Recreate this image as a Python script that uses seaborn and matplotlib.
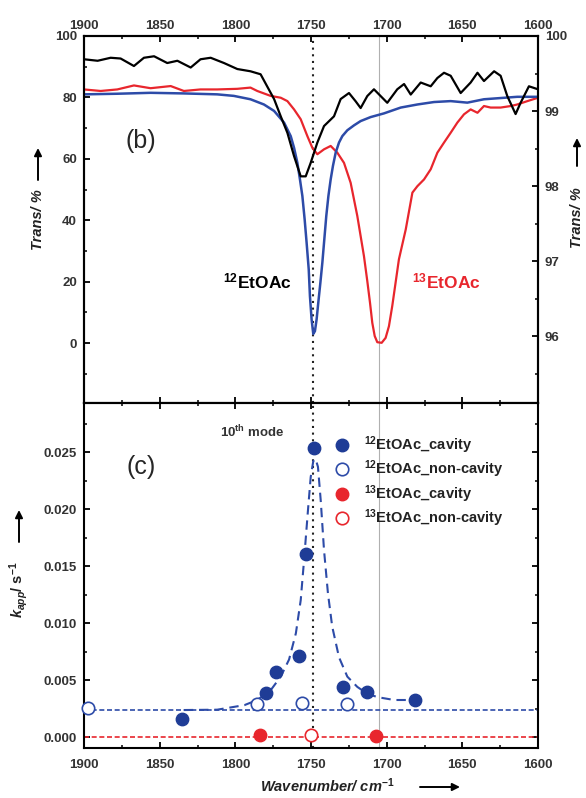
import matplotlib
matplotlib.use("Agg")
import matplotlib.pyplot as plt
import matplotlib.patches as mpatches
import seaborn as sns
from matplotlib.ticker import MultipleLocator
from matplotlib.lines import Line2D

# ---------------- data ----------------
# panel (b): IR transmission spectra
wn_blue = [1900, 1878, 1856, 1834, 1812, 1801, 1790, 1781.1, 1774.4, 1767.8, 1763.4, 1761.2,
           1759.0, 1757.3, 1755.7, 1754.2, 1752.9, 1751.5, 1750.7, 1749.6, 1748.5, 1747.4,
           1746.3, 1745.2, 1743.8, 1742.5, 1741.2, 1739.9, 1738.5, 1737.0, 1735.5, 1733.7,
           1731.5, 1729.3, 1726.0, 1721.6, 1717.2, 1710.6, 1701.8, 1690.7, 1679.7, 1668.7,
           1657.7, 1646.7, 1635.7, 1613.7, 1600]
t_blue = [81.0, 81.2, 81.5, 81.3, 81.0, 80.5, 79.4, 77.7, 75.6, 71.8, 67.4, 63.6,
          58.7, 53.3, 47.9, 40.3, 32.7, 24.0, 15.3, 7.7, 3.0, 3.9,
          7.7, 13.1, 19.7, 26.2, 33.8, 41.4, 47.9, 53.3, 57.7, 62.0,
          65.3, 67.4, 69.3, 70.9, 72.3, 73.6, 74.8, 76.7, 77.7, 78.5,
          78.8, 78.3, 79.4, 80.2, 80.2]

wn_red = [1900, 1889, 1878, 1867, 1856, 1842.7, 1834, 1823, 1812, 1798.7, 1790, 1785.5, 1776.7,
          1770, 1765.6, 1761.2, 1756.8, 1752.4, 1749.1, 1745.8, 1741.4, 1737, 1732.6, 1728.2,
          1723.8, 1719.4, 1715, 1712.8, 1711, 1709.5, 1707.9, 1706.2, 1703.3, 1700.7, 1698.5,
          1696.3, 1694.1, 1691.9, 1687.4, 1683.0, 1679.7, 1675.3, 1670.9, 1666.5, 1662.1,
          1657.7, 1653.3, 1648.9, 1644.5, 1640, 1635.7, 1631.3, 1624.7, 1618, 1613.7, 1607, 1600]
t_red = [82.6, 82.1, 82.6, 83.9, 83.0, 83.7, 82.1, 82.6, 82.6, 82.8, 83.2, 82.1, 80.5,
         79.9, 78.8, 76.1, 72.9, 67.4, 63.6, 61.5, 63.1, 64.2, 62.0, 58.7,
         52.2, 41.4, 28.3, 20.2, 13.1, 6.6, 2.3, 0.3, 0.1, 1.7, 5.5,
         12.1, 19.7, 27.3, 37.0, 49.0, 51.1, 53.3, 56.6, 62.0, 65.3,
         68.5, 71.8, 74.5, 76.1, 75.0, 77.2, 76.7, 76.7, 77.2, 77.7, 78.8, 79.9]

# cavity spectrum (right axis)
wn_black = [1900, 1891, 1882.4, 1875.8, 1867, 1860.4, 1853.7, 1845, 1838.3, 1829.5, 1823, 1816.3,
            1807.5, 1798.7, 1790, 1783.3, 1779, 1774.4, 1770, 1765.6, 1761.2, 1756.8, 1753.5,
            1750.2, 1745.8, 1741.4, 1734.8, 1730.4, 1724.9, 1720.5, 1717.2, 1712.8, 1708.4,
            1704, 1699.6, 1693, 1688.5, 1684.1, 1677.5, 1670.9, 1666.5, 1662.1, 1657.7,
            1651.1, 1644.5, 1640, 1635.7, 1629, 1624.7, 1620.3, 1614.8, 1611.5, 1606, 1600]
t_black = [99.69, 99.67, 99.71, 99.70, 99.60, 99.71, 99.73, 99.64, 99.67, 99.58, 99.69, 99.71,
           99.64, 99.56, 99.53, 99.49, 99.33, 99.16, 98.93, 98.71, 98.40, 98.13, 98.13,
           98.31, 98.58, 98.80, 98.93, 99.16, 99.24, 99.13, 99.04, 99.20, 99.29,
           99.20, 99.11, 99.29, 99.36, 99.22, 99.38, 99.33, 99.44, 99.51, 99.47,
           99.24, 99.38, 99.51, 99.40, 99.53, 99.47, 99.20, 98.96, 99.11, 99.33, 99.29]

# panel (c): rate constants
wn_12_cav = [1835.5, 1779.5, 1773.3, 1757.9, 1753.5, 1748.0, 1728.9, 1713.0, 1681.3]
k_12_cav = [0.00155, 0.00383, 0.00573, 0.00713, 0.01605, 0.02532, 0.00436, 0.00395, 0.00325]
wn_12_non = [1897.4, 1786.0, 1756.2, 1726.0]
k_12_non = [0.00251, 0.0029, 0.00301, 0.0029]
wn_13_cav = [1784.0, 1706.8]
k_13_cav = [0.0002, 0.0001]
wn_13_non = [1750.2]
k_13_non = [0.0002]
k_12_non_level = 0.0024
k_13_level = 0.0

wn_fit = [1834, 1812, 1794, 1785.5, 1776.7, 1770, 1764.5, 1760, 1756.8, 1754.6, 1752, 1750.2,
          1748.5, 1747, 1745.4, 1743.6, 1741.4, 1738.8, 1736, 1731.5, 1726, 1719.4, 1712.8,
          1706, 1695, 1680]
k_fit = [0.00237, 0.0024, 0.0028, 0.00325, 0.0041, 0.0053, 0.0068, 0.0091, 0.0120, 0.0155,
         0.0199, 0.0228, 0.0242, 0.0244, 0.0237, 0.0208, 0.0164, 0.0126, 0.0097, 0.0070,
         0.0053, 0.0044, 0.0038, 0.0035, 0.00325, 0.00325]

mode_line = 1749
c13_line = 1705

xticks = [1900, 1850, 1800, 1750, 1700, 1650, 1600]

# ---------------- style ----------------
sns.set_theme(style="ticks")
plt.rcParams['font.family'] = ['Liberation Sans', 'DejaVu Sans']
plt.rcParams['mathtext.fontset'] = 'custom'
plt.rcParams['mathtext.rm'] = 'Liberation Sans:bold'
plt.rcParams['mathtext.it'] = 'Liberation Sans:italic:bold'
plt.rcParams['mathtext.bf'] = 'Liberation Sans:bold'

BLUE = "#2d4ba8"
BLUE_M = "#1f3c96"
RED = "#e8262d"
TICKC = "#333333"

fig = plt.figure(figsize=(5.86, 7.98), dpi=100)
ax1 = fig.add_axes([84 / 586, 1 - 403 / 798, 454 / 586, 367 / 798])
ax2 = fig.add_axes([84 / 586, 1 - 748 / 798, 454 / 586, 345 / 798])
ax1r = ax1.twinx()


def style_axis(ax):
    for s in ax.spines.values():
        s.set_linewidth(1.5)
        s.set_color('black')
    ax.tick_params(which='major', direction='in', length=4, width=1.3, color='black',
                   labelsize=9.5, labelcolor=TICKC)
    ax.tick_params(which='minor', direction='in', length=2.5, width=1.1, color='black')
    for lab in ax.get_xticklabels() + ax.get_yticklabels():
        lab.set_fontweight('bold')


# ---- panel (b) ----
sns.lineplot(x=wn_black, y=t_black, ax=ax1r, color='black', lw=1.6, estimator=None, sort=False)
sns.lineplot(x=wn_red, y=t_red, ax=ax1, color=RED, lw=1.6, estimator=None, sort=False)
sns.lineplot(x=wn_blue, y=t_blue, ax=ax1, color=BLUE, lw=1.8, estimator=None, sort=False)
ax1.axvline(mode_line, color='#222222', lw=1.5, ls=(0, (1, 2.2)), zorder=1)
ax1.axvline(c13_line, color='#b0b0b0', lw=0.8, zorder=1)

ax1.set_xlim(1900, 1600)
ax1.set_xticks(xticks)
ax1.xaxis.set_minor_locator(MultipleLocator(25))
ax1.set_yticks([0, 20, 40, 60, 80, 100])
ax1.yaxis.set_minor_locator(MultipleLocator(10))
ax1r.set_yticks([96, 97, 98, 99, 100])
ax1r.yaxis.set_minor_locator(MultipleLocator(0.5))
ax1.set_ylim(-19.5, 100)
ax1r.set_ylim(95.11, 100)
ax1.tick_params(axis='x', which='both', top=True, bottom=True, labeltop=True, labelbottom=False)
ax1.tick_params(axis='y', which='both', left=True, right=False, labelleft=True)
ax1r.tick_params(axis='y', which='both', right=True, left=False, labelright=True)
style_axis(ax1)
style_axis(ax1r)
ax1.tick_params(axis='x', which='major', pad=3)
ax1.tick_params(axis='y', which='major', pad=5)
ax1r.tick_params(axis='y', which='major', pad=5)
ax1.set_xlabel('')
ax1.set_ylabel('')
ax1r.set_ylabel('')

ax1.text(0.126, 0.714, "(b)", transform=ax1.transAxes, fontsize=18, ha='center', va='center')
ax1.text(0.381, 0.330, r"$^{\mathrm{12}}$EtOAc", transform=ax1.transAxes, fontsize=12.5,
         fontweight='bold', color='black', ha='center', va='center')
ax1.text(0.797, 0.330, r"$^{\mathrm{13}}$EtOAc", transform=ax1.transAxes, fontsize=12.5,
         fontweight='bold', color=RED, ha='center', va='center')

# ---- panel (c) ----
ax2.axhline(k_12_non_level, color=BLUE, lw=1.2, ls=(0, (3, 1.6)), zorder=2)
ax2.axhline(k_13_level, color=RED, lw=1.2, ls=(0, (3, 1.6)), zorder=2)
ax2.axvline(mode_line, color='#222222', lw=1.5, ls=(0, (1, 2.2)), zorder=1)
ax2.axvline(c13_line, color='#b0b0b0', lw=0.8, zorder=1)
sns.lineplot(x=wn_fit, y=k_fit, ax=ax2, color=BLUE, lw=1.5, linestyle=(0, (4.5, 2.8)),
             estimator=None, sort=False, zorder=3)

S = 80
sns.scatterplot(x=wn_12_cav, y=k_12_cav, ax=ax2, s=S, color=BLUE_M, edgecolor=BLUE_M,
                linewidth=1, zorder=5, clip_on=False)
sns.scatterplot(x=wn_12_non, y=k_12_non, ax=ax2, s=S, color='white', edgecolor=BLUE,
                linewidth=1.2, zorder=5, clip_on=False)
sns.scatterplot(x=wn_13_cav, y=k_13_cav, ax=ax2, s=S, color=RED, edgecolor=RED,
                linewidth=1, zorder=5, clip_on=False)
sns.scatterplot(x=wn_13_non, y=k_13_non, ax=ax2, s=S, color='white', edgecolor=RED,
                linewidth=1.2, zorder=5, clip_on=False)

ax2.set_xlim(1900, 1600)
ax2.set_xticks(xticks)
ax2.xaxis.set_minor_locator(MultipleLocator(25))
ax2.set_yticks([0.0, 0.005, 0.010, 0.015, 0.020, 0.025])
ax2.yaxis.set_minor_locator(MultipleLocator(0.0025))
ax2.set_yticklabels(["0.000", "0.005", "0.010", "0.015", "0.020", "0.025"])
ax2.set_ylim(-0.00096, 0.0293)
ax2.tick_params(axis='both', which='both', top=True, right=True, bottom=True, left=True,
                labeltop=False, labelright=False)
style_axis(ax2)
ax2.tick_params(axis='x', which='major', pad=8)
ax2.tick_params(axis='y', which='major', pad=5)
ax2.set_xlabel('')
ax2.set_ylabel('')

ax2.text(0.126, 0.814, "(c)", transform=ax2.transAxes, fontsize=18, ha='center', va='center')
ax2.text(0.37, 0.916, r"10$^{\mathrm{th}}$ mode", transform=ax2.transAxes, fontsize=9.5,
         fontweight='bold', ha='center', va='center', color=TICKC)

handles = [
    Line2D([], [], ls='none', marker='o', ms=9, mfc=BLUE_M, mec=BLUE_M),
    Line2D([], [], ls='none', marker='o', ms=9, mfc='white', mec=BLUE, mew=1.2),
    Line2D([], [], ls='none', marker='o', ms=9, mfc=RED, mec=RED),
    Line2D([], [], ls='none', marker='o', ms=9, mfc='white', mec=RED, mew=1.2),
]
labels = [r"$^{\mathrm{12}}$EtOAc_cavity", r"$^{\mathrm{12}}$EtOAc_non-cavity",
          r"$^{\mathrm{13}}$EtOAc_cavity", r"$^{\mathrm{13}}$EtOAc_non-cavity"]
leg = ax2.legend(handles, labels, loc='upper left', bbox_to_anchor=(0.553, 0.91),
                 frameon=False, fontsize=10.5, handlelength=1.0, handletextpad=1.0,
                 labelspacing=0.2, borderaxespad=0, borderpad=0)
for t in leg.get_texts():
    t.set_fontweight('bold')
    t.set_color('#222222')

# ---- axis titles with arrows ----
lab_kw = dict(rotation=90, ha='center', va='center', fontsize=10.5, fontweight='bold',
              fontstyle='italic', color='#222222')
fig.text(38 / 586, 1 - 220 / 798, "Trans/ %", **lab_kw)
fig.text(577 / 586, 1 - 218 / 798, "Trans/ %", **lab_kw)
fig.text(19 / 586, 1 - 590 / 798, r"$k_{app}$/ s$^{\mathrm{-1}}$", rotation=90, ha='center',
         va='center', fontsize=10.5, fontweight='bold', color='#222222')
fig.text(327 / 586, 1 - 786 / 798, r"Wavenumber/ cm$^{\mathrm{-1}}$", ha='center',
         va='center', fontsize=10.5, fontweight='bold', fontstyle='italic', color='#222222')

arrow_kw = dict(arrowstyle='-|>', lw=1.4, color='black', mutation_scale=11, shrinkA=0, shrinkB=0)
for (x0, y0, x1, y1) in [(38, 180, 38, 148), (577, 166, 577, 138), (19, 542, 19, 510),
                         (420, 787, 460, 787)]:
    fig.add_artist(mpatches.FancyArrowPatch((x0 / 586, 1 - y0 / 798),
                                            (x1 / 586, 1 - y1 / 798),
                                            transform=fig.transFigure, **arrow_kw))

fig.savefig("out.png", dpi=100)
